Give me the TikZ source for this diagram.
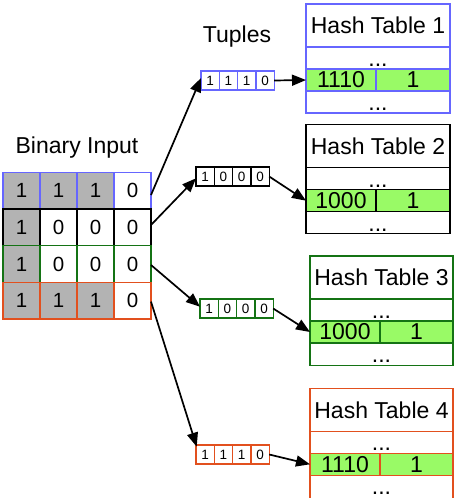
\documentclass[tikz,border=0pt]{standalone}
\usepackage{fontspec}
\setmainfont{Liberation Sans}
\usetikzlibrary{arrows.meta,calc}
\definecolor{cblue}{RGB}{102,102,255}
\definecolor{cgreen}{RGB}{20,115,20}
\definecolor{cred}{RGB}{226,80,30}
\definecolor{cgray}{RGB}{179,179,179}
\definecolor{cfill}{RGB}{153,250,102}
\begin{document}
\begin{tikzpicture}[x=1pt,y=-1pt,
  cell/.style={draw,line width=1.5pt,minimum width=37pt,minimum height=36.7pt,inner sep=0pt,outer sep=0pt,font=\fontsize{20.5}{20.5}\selectfont},
  tcell/.style={draw,line width=1.2pt,minimum width=18.3pt,minimum height=19pt,inner sep=0pt,outer sep=0pt,font=\fontsize{13.5}{13.5}\selectfont},
  hrow/.style={draw,line width=1.5pt,inner sep=0pt,outer sep=0pt,anchor=north west,font=\fontsize{23}{23}\selectfont},
  lbl/.style={font=\fontsize{23}{23}\selectfont,inner sep=0pt},
  arr/.style={line width=1.7pt,-{Triangle[length=14pt,width=11pt]}},
]
\useasboundingbox (0,0) rectangle (456,498);
\clip (0,0) rectangle (456,498);

% labels
\node[lbl] (lbin) at (77,148) {Binary Input};
\node[lbl] (ltup) at (237,37) {Tuples};

% binary input grid
\foreach \c/\v/\f in {1/1/cgray,2/1/cgray,3/1/cgray,4/0/white}
  \node[cell,draw=cblue,fill=\f] (c1\c) at (37*\c-15.5,190.65) {\v};
\foreach \c/\v/\f in {1/1/cgray,2/0/white,3/0/white,4/0/white}
  \node[cell,draw=black,fill=\f] (c2\c) at (37*\c-15.5,227.35) {\v};
\foreach \c/\v/\f in {1/1/cgray,2/0/white,3/0/white,4/0/white}
  \node[cell,draw=cgreen,fill=\f] (c3\c) at (37*\c-15.5,264) {\v};
\foreach \c/\v/\f in {1/1/cgray,2/1/cgray,3/1/cgray,4/0/white}
  \node[cell,draw=cred,fill=\f] (c4\c) at (37*\c-15.5,300.65) {\v};

% tuples
\foreach \i/\n/\v in {0/a/1,1/b/1,2/c/1,3/d/0}
  \node[tcell,draw=cblue] (t1\n) at (210.15+18.3*\i,80.5) {\v};
\foreach \i/\n/\v in {0/a/1,1/b/0,2/c/0,3/d/0}
  \node[tcell,draw=black] (t2\n) at (205.15+18.3*\i,176.5) {\v};
\foreach \i/\n/\v in {0/a/1,1/b/0,2/c/0,3/d/0}
  \node[tcell,draw=cgreen] (t3\n) at (209.15+18.3*\i,308.5) {\v};
\foreach \i/\n/\v in {0/a/1,1/b/1,2/c/1,3/d/0}
  \node[tcell,draw=cred] (t4\n) at (205.15+18.3*\i,454.5) {\v};

% hash tables
\foreach \k/\col/\x/\s/\r/\y/\key/\bh in {1/cblue/306/376/450/4/1110/22,
    2/black/306/376/450/124.7/1000/22,
    3/cgreen/310/380/453/256/1000/22.5,
    4/cred/310/380/453/388.3/1110/40}{
  \node[hrow,draw=\col,minimum width={(\r-\x)*1pt},minimum height=43pt] (h\k t) at (\x,\y) {Hash Table \k};
  \node[hrow,draw=\col,minimum width={(\r-\x)*1pt},minimum height=22pt] (h\k d) at (\x,\y+43) {};
  \node[hrow,draw=\col,minimum width={(\r-\x)*1pt},minimum height=\bh pt] (h\k b) at (\x,\y+87) {};
  \node[hrow,draw=\col,fill=cfill,minimum width={(\s-\x)*1pt},minimum height=22pt] (h\k k) at (\x,\y+65) {\key};
  \node[hrow,draw=\col,fill=cfill,minimum width={(\r-\s)*1pt},minimum height=22pt] (h\k v) at (\s,\y+65) {1};
  \node[lbl,anchor=base] (h\k dt) at ($(h\k d.south)+(0,-2.5)$) {...};
  \node[lbl,anchor=base] (h\k bt) at ($(h\k b.north)+(0,19.5)$) {...};
}

% arrows input -> tuples
\draw[arr] ([yshift=-4.35pt]c14.east) -- ([yshift=2.5pt]t1a.west);
\draw[arr] ([yshift=2.35pt]c24.east) -- ([yshift=-1.8pt]t2a.west);
\draw[arr] ([yshift=-1pt]c34.east) -- ([yshift=1.8pt]t3a.west);
\draw[arr] ([yshift=-1pt]c44.east) -- ([xshift=0.7pt,yshift=-1.7pt]t4a.north west);

% arrows tuples -> hash tables
\draw[arr] (t1d.east) -- (h1k.west);
\draw[arr] (t2d.east) -- (h2k.west);
\draw[arr] (t3d.east) -- (h3k.west);
\draw[arr] (t4d.east) -- (h4k.west);
\end{tikzpicture}
\end{document}
